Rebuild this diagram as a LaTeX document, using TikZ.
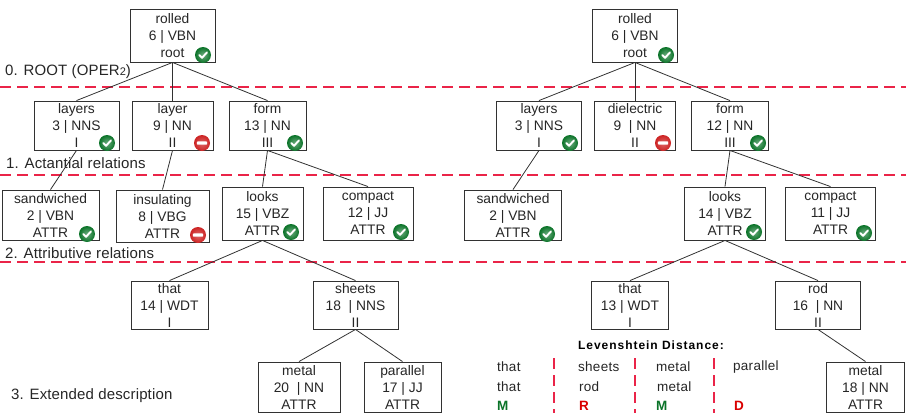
\documentclass[tikz,border=0pt]{standalone}
\usepackage{fontspec}
\setmainfont{Liberation Sans}
\newfontfamily\levelfont[LetterSpace=1]{Liberation Sans}
\newfontfamily\editfont[LetterSpace=2]{Liberation Sans}
\newfontfamily\titlefont[LetterSpace=8]{Liberation Sans}
\definecolor{levelRed}{RGB}{234,36,72}
\definecolor{boxGray}{RGB}{50,50,50}
\definecolor{okGreen}{RGB}{10,115,40}
\definecolor{noRed}{RGB}{205,35,35}
\tikzset{
  wordbox/.style={draw=boxGray, line width=0.9pt, fill=white, inner sep=0pt, align=center,
    text=black!85, font=\fontsize{13.8}{17}\selectfont},
  okmark/.style={circle, inner sep=0pt, minimum size=16pt, inner color=okGreen!60, outer color=okGreen,
    path picture={\draw[white, line width=1.9pt, line cap=round, line join=round]
      ([xshift=-3.8pt,yshift=0pt]path picture bounding box.center) -- ++(2.8pt,-2.8pt) -- ++(5pt,5.4pt);}},
  nomark/.style={circle, inner sep=0pt, minimum size=16pt, inner color=noRed!70, outer color=noRed,
    path picture={\fill[white, rounded corners=0.8pt]
      ([xshift=-5.2pt,yshift=-1.6pt]path picture bounding box.center) rectangle ++(10.4pt,3.2pt);}},
  levelline/.style={draw=levelRed, line width=2pt, dash pattern=on 11pt off 6pt},
  editline/.style={draw=levelRed, line width=1.5pt, dash pattern=on 11pt off 6pt},
  link/.style={draw=boxGray, line width=0.8pt},
  levellabel/.style={anchor=west, inner sep=0pt, text=black!85, font=\levelfont\fontsize{15}{17}\selectfont},
  editword/.style={anchor=west, inner sep=0pt, text=black!85, font=\editfont\fontsize{13.5}{15}\selectfont},
  edittag/.style={anchor=west, inner sep=0pt, font=\bfseries\fontsize{13.5}{14}\selectfont},
}
\newcommand{\wordnode}[6]{\node[wordbox, minimum width=#3pt, minimum height=#4pt] (#1) at (#2) {#5\\#6};}
\begin{document}
\begin{tikzpicture}[x=1pt, y=-1pt]
\useasboundingbox (0,0) rectangle (906,413);
% Level separators
\coordinate (levelA0) at (0,87);     \coordinate (levelA1) at (906,87);
\coordinate (levelB0) at (0,175);    \coordinate (levelB1) at (906,175);
\coordinate (levelC0) at (0,262);    \coordinate (levelC1) at (906,262);
\draw[levelline] (levelA0) -- (levelA1);
\draw[levelline] (levelB0) -- (levelB1);
\draw[levelline] (levelC0) -- (levelC1);
% Level labels
\node[levellabel] (labelRoot) at (5,72) {0. ROOT (OPER{\fontsize{11}{11}\selectfont 2})};
\node[levellabel] (labelAct) at (6,163) {1. Actantial relations};
\node[levellabel] (labelAttr) at (5,253) {2. Attributive relations};
\node[levellabel] (labelExt) at (11,396) {3. Extended description};
% Left tree
\wordnode{leftRolled}{172.5,35.5}{85}{53}{rolled}{6 | VBN\\root}
\wordnode{leftLayers}{76.5,125.5}{85}{49}{layers}{3 | NNS\\I}
\wordnode{leftLayer}{172.5,125.5}{81}{49}{layer}{9 | NN\\II}
\wordnode{leftForm}{267.5,125.5}{77}{49}{form}{13 | NN\\III}
\wordnode{leftSandwiched}{50.5,215}{97}{50}{sandwiched}{2 | VBN\\ATTR}
\wordnode{leftInsulating}{162.5,216}{93}{52}{insulating}{8 | VBG\\ATTR}
\wordnode{leftLooks}{262.5,213.5}{81}{53}{looks}{15 | VBZ\\ATTR}
\wordnode{leftCompact}{368,213.5}{90}{53}{compact}{12 | JJ\\ATTR}
\wordnode{leftThat}{169.5,305}{77}{48}{that}{14 | WDT\\I}
\wordnode{leftSheets}{355.5,305}{85}{48}{sheets}{18~ | NNS\\II}
\wordnode{leftMetal}{299,387}{82}{50}{metal}{20~ | NN\\ATTR}
\wordnode{leftParallel}{402.5,387}{77}{50}{parallel}{17 | JJ\\ATTR}
\draw[link] (leftRolled.south) -- (leftLayers.north);
\draw[link] (leftRolled.south) -- (leftLayer.north);
\draw[link] (leftRolled.south) -- (leftForm.north);
\draw[link] (leftLayers.south) -- (leftSandwiched.north);
\draw[link] (leftLayer.south) -- (leftInsulating.north);
\draw[link] (leftForm.south) -- (leftLooks.north);
\draw[link] (leftForm.south) -- (leftCompact.north);
\draw[link] (leftLooks.south) -- (leftThat.north);
\draw[link] (leftLooks.south) -- (leftSheets.north);
\draw[link] (leftSheets.south) -- (leftMetal.north);
\draw[link] (leftSheets.south) -- (leftParallel.north);
% Right tree
\wordnode{rightRolled}{635,35.5}{85}{53}{rolled}{6 | VBN\\root}
\wordnode{rightLayers}{539,125.5}{85}{49}{layers}{3 | NNS\\I}
\wordnode{rightDielectric}{635,125.5}{81}{49}{dielectric}{9~ | NN\\II}
\wordnode{rightForm}{730,125.5}{77}{49}{form}{12 | NN\\III}
\wordnode{rightSandwiched}{513,215}{97}{50}{sandwiched}{2 | VBN\\ATTR}
\wordnode{rightLooks}{725,213.5}{81}{53}{looks}{14 | VBZ\\ATTR}
\wordnode{rightCompact}{830.5,213.5}{90}{53}{compact}{11 | JJ\\ATTR}
\wordnode{rightThat}{630,305}{77}{48}{that}{13 | WDT\\I}
\wordnode{rightRod}{818,305}{85}{48}{rod}{16~ | NN\\II}
\wordnode{rightMetal}{865.5,387}{78}{50}{metal}{18 | NN\\ATTR}
\draw[link] (rightRolled.south) -- (rightLayers.north);
\draw[link] (rightRolled.south) -- (rightDielectric.north);
\draw[link] (rightRolled.south) -- (rightForm.north);
\draw[link] (rightLayers.south) -- (rightSandwiched.north);
\draw[link] (rightForm.south) -- (rightLooks.north);
\draw[link] (rightForm.south) -- (rightCompact.north);
\draw[link] (rightLooks.south) -- (rightThat.north);
\draw[link] (rightLooks.south) -- (rightRod.north);
\draw[link] (rightRod.south) -- (rightMetal.north);
% Marks
\node[okmark] (okA) at (203,55) {};
\node[okmark] (okB) at (107,143) {};
\node[nomark] (noA) at (202,143) {};
\node[okmark] (okC) at (295,143) {};
\node[okmark] (okD) at (87,234) {};
\node[nomark] (noB) at (198,235) {};
\node[okmark] (okE) at (291,232) {};
\node[okmark] (okF) at (401,232) {};
\node[okmark] (okG) at (666,55) {};
\node[okmark] (okH) at (570,143) {};
\node[nomark] (noC) at (663,143) {};
\node[okmark] (okI) at (758,143) {};
\node[okmark] (okJ) at (547,234) {};
\node[okmark] (okK) at (754,232) {};
\node[okmark] (okL) at (864,233) {};
% Levenshtein table
\node[anchor=west, inner sep=0pt, font=\titlefont\bfseries\fontsize{12}{14}\selectfont] (editTitle) at (578,345) {Levenshtein Distance:};
\coordinate (sepA0) at (554,358);  \coordinate (sepA1) at (554,413);
\coordinate (sepB0) at (635,358);  \coordinate (sepB1) at (635,413);
\coordinate (sepC0) at (714,358);  \coordinate (sepC1) at (714,413);
\draw[editline] (sepA0) -- (sepA1);
\draw[editline] (sepB0) -- (sepB1);
\draw[editline] (sepC0) -- (sepC1);
\node[editword] (srcThat) at (497,367) {that};
\node[editword] (srcSheets) at (578,367) {sheets};
\node[editword] (srcMetal) at (656,367) {metal};
\node[editword] (srcParallel) at (733,367) {parallel};
\node[editword] (dstThat) at (497,387) {that};
\node[editword] (dstRod) at (579,387) {rod};
\node[editword] (dstMetal) at (657,387) {metal};
\node[edittag, text=okGreen] (tagM) at (497,405.5) {M};
\node[edittag, text=red!85!black] (tagR) at (579,405.5) {R};
\node[edittag, text=okGreen] (tagMb) at (656,405.5) {M};
\node[edittag, text=red!85!black] (tagD) at (734,405.5) {D};
\end{tikzpicture}
\end{document}
